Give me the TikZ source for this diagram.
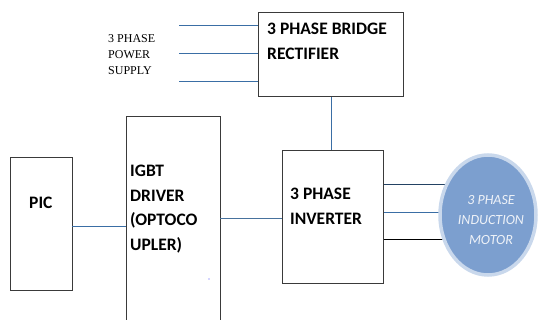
\documentclass[tikz,border=0pt]{standalone}
\usepackage{fontspec}
\setmainfont{Carlito}
\newfontfamily\supplyfont{Liberation Serif}
\usetikzlibrary{shapes.geometric,backgrounds}
\definecolor{linkblue}{HTML}{3A6EA5}
\definecolor{boxline}{HTML}{3A3A3A}
\definecolor{motorfill}{HTML}{7C9FCF}
\definecolor{motorring}{HTML}{C9D8EC}
\definecolor{motortext}{HTML}{EEF2F8}
\begin{document}
\begin{tikzpicture}[x=1pt,y=-1pt,
  blockbox/.style={draw=boxline,line width=1.2pt,fill=white,anchor=north west,inner sep=0pt},
  blocktext/.style={font=\bfseries\fontsize{17.5}{24.5}\selectfont,align=left,anchor=north west,inner sep=0pt},
  link/.style={draw=linkblue,line width=0.9pt},
  darklink/.style={draw=black,line width=0.9pt}]
\useasboundingbox (0,0) rectangle (539,320);
\clip (0,0) rectangle (539,320);
% blocks
\node[blockbox,minimum width=145pt,minimum height=84pt] (rect) at (258,12) {};
\node[blockbox,minimum width=101pt,minimum height=133pt] (inv) at (282,150) {};
\node[blockbox,minimum width=62pt,minimum height=133pt] (pic) at (10,157) {};
\node[blockbox,minimum width=94pt,minimum height=220pt] (igbt) at (126,116) {};
\node[ellipse,fill=motorfill,draw=motorring,line width=3.5pt,minimum width=96pt,minimum height=120pt,inner sep=0pt] (motor) at (488,215) {};
% texts
\node[blocktext] (rectlbl) at (267,23) {3 PHASE BRIDGE\\RECTIFIER};
\node[blocktext] (invlbl) at (290,188) {3 PHASE\\INVERTER};
\node[blocktext] (iglbl) at (130,165) {IGBT\\DRIVER\\(OPTOCO\\UPLER)};
\node[blocktext] (piclbl) at (29,197) {PIC};
\node[font=\itshape\fontsize{14}{20}\selectfont,text=motortext,align=center,inner sep=0pt] (motlbl) at (491,220) {3 PHASE\\INDUCTION\\MOTOR};
\node[font=\supplyfont\fontsize{12}{16}\selectfont,align=left,anchor=north west,inner sep=0pt] (supply) at (108,34) {3 PHASE\\POWER\\SUPPLY};
% supply connectors
\coordinate (s1) at (179,25.7);
\coordinate (s2) at (179,53);
\coordinate (s3) at (179,81);
\draw[link] (s1) -- (s1 -| rect.west);
\draw[link] (s2) -- (s2 -| rect.west);
\draw[link] (s3) -- (s3 -| rect.west);
% rectifier to inverter
\draw[link] (rect.south -| 331,0) -- (inv.north -| 331,0);
% pic to igbt
\coordinate (p1) at (72,226);
\draw[link] (p1) -- (p1 -| igbt.west);
% igbt to inverter
\coordinate (p2) at (220,218);
\draw[link,draw=linkblue!80!gray] (p2) -- (p2 -| inv.west);
% inverter to motor
\begin{scope}[on background layer]
\coordinate (m1) at (383,184);
\coordinate (m2) at (383,212);
\coordinate (m3) at (383,239);
\draw[link,draw=linkblue!60!black] (m1) -- (m1 -| motor.center);
\draw[link] (m2) -- (m2 -| motor.center);
\draw[darklink] (m3) -- (m3 -| motor.center);
\end{scope}
% small dot
\fill[blue!70] (209,279) circle (0.7pt);
\end{tikzpicture}
\end{document}
